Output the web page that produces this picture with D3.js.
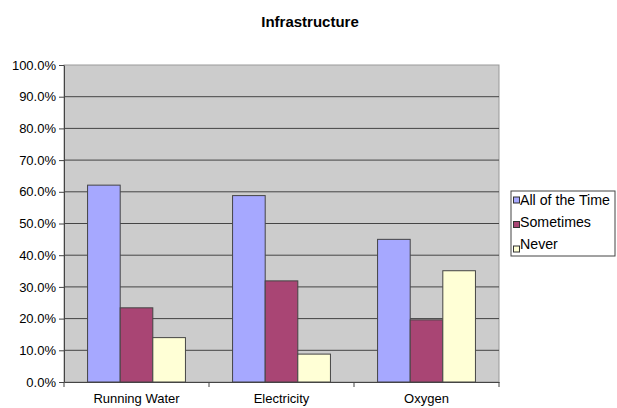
<!DOCTYPE html>
<html><head><meta charset="utf-8">
<script src="https://cdn.jsdelivr.net/npm/d3@7"></script>
<style>body{margin:0;background:#fff;}svg{display:block;font-family:"Liberation Sans",Arial,sans-serif;}</style>
</head><body><svg id="c" width="617" height="408"></svg>
<script>
const categories = ["Running Water", "Electricity", "Oxygen"];
const seriesNames = ["All of the Time", "Sometimes", "Never"];
const allOfTheTime = [62.1, 58.8, 45.0];
const sometimes = [23.4, 31.9, 19.6];
const never = [14.0, 8.8, 35.1];
const yTicks = [0,10,20,30,40,50,60,70,80,90,100];
const colors = ["#A6A8FF", "#A94574", "#FFFFD6"];
const seriesValues = [allOfTheTime, sometimes, never];

const svg = d3.select("#c");
const L = 64, R = 499, T = 65, B = 382;
const x = d3.scaleBand().domain(categories).range([L, R]).paddingInner(0.325).paddingOuter(0.1625);
const xs = d3.scaleBand().domain(seriesNames).range([0, x.bandwidth()]);
const y = d3.scaleLinear().domain([0, 100]).range([B, T]);

svg.append("text").attr("x", 310).attr("y", 27).attr("text-anchor", "middle")
  .attr("font-weight", "bold").attr("font-size", 15).text("Infrastructure");

svg.append("rect").attr("x", L).attr("y", T).attr("width", R - L).attr("height", B - T)
  .attr("fill", "#CCCCCC").attr("stroke", "#999").attr("stroke-width", 1);

svg.append("g").selectAll("line").data(yTicks.slice(1, -1)).join("line")
  .attr("x1", L).attr("x2", R).attr("y1", d => y(d)).attr("y2", d => y(d))
  .attr("stroke", "#444").attr("stroke-width", 1);

const groups = svg.append("g").selectAll("g").data(categories).join("g")
  .attr("transform", d => `translate(${x(d)},0)`);
groups.selectAll("rect").data((c, i) => seriesNames.map((s, j) => ({s, v: seriesValues[j][i], j}))).join("rect")
  .attr("x", d => xs(d.s)).attr("width", xs.bandwidth())
  .attr("y", d => y(d.v)).attr("height", d => B - y(d.v))
  .attr("fill", d => colors[d.j]).attr("stroke", "#444").attr("stroke-width", 1);

const yAxis = svg.append("g").attr("transform", `translate(${L},0)`)
  .call(d3.axisLeft(y).tickValues(yTicks).tickSize(5).tickSizeOuter(0).tickPadding(3).tickFormat(d => d.toFixed(1) + "%"));
yAxis.select(".domain").attr("stroke", "#444");
yAxis.selectAll(".tick line").attr("stroke", "#444");
yAxis.selectAll("text").attr("font-size", 13).attr("fill", "#000").attr("font-family", "Liberation Sans, Arial, sans-serif");

const xAxis = svg.append("g").attr("transform", `translate(0,${B})`)
  .call(d3.axisBottom(x).tickSize(0).tickPadding(12));
xAxis.select(".domain").attr("stroke", "#444");
xAxis.selectAll("text").attr("font-size", 13).attr("fill", "#000").attr("font-family", "Liberation Sans, Arial, sans-serif");
const step = x.step();
svg.append("g").selectAll("line").data(d3.range(categories.length + 1)).join("line")
  .attr("x1", i => L + i * step).attr("x2", i => L + i * step)
  .attr("y1", B).attr("y2", B + 5).attr("stroke", "#444");

const lg = svg.append("g");
lg.append("rect").attr("x", 511).attr("y", 191).attr("width", 104).attr("height", 65)
  .attr("fill", "#fff").attr("stroke", "#444");
seriesNames.forEach((s, j) => {
  const base = 205 + j * 22;
  const cy = base - 5 + j * 2.5;
  lg.append("rect").attr("x", 513.5).attr("y", cy - 3).attr("width", 6).attr("height", 6)
    .attr("fill", colors[j]).attr("stroke", "#333");
  lg.append("text").attr("x", 520).attr("y", base).attr("font-size", 14.2).text(s);
});
</script></body></html>
